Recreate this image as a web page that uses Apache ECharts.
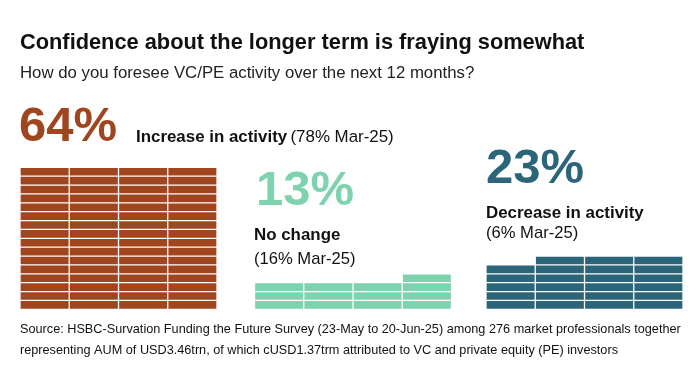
<!DOCTYPE html>
<html>
<head>
<meta charset="utf-8">
<script src="https://cdn.jsdelivr.net/npm/echarts@6/dist/echarts.min.js"></script>
<style>
html,body{margin:0;padding:0;background:#fff;}
#chart{width:696px;height:390px;}
</style>
</head>
<body>
<div id="chart"></div>
<script>
// ---- data ----
const titleText = 'Confidence about the longer term is fraying somewhat';
const subtitleText = 'How do you foresee VC/PE activity over the next 12 months?';
const categories = ['Increase in activity', 'No change', 'Decrease in activity'];
const values = [64, 13, 23];
const previousValues = [78, 16, 6];
const previousLabel = 'Mar-25';
const colors = ['#A0461F', '#7DD3AE', '#2B6579'];
const sourceLines = [
  'Source: HSBC-Survation Funding the Future Survey (23-May to 20-Jun-25) among 276 market professionals together',
  'representing AUM of USD3.46trn, of which cUSD1.37trm attributed to VC and private equity (PE) investors'
];
const columnsPerGroup = 4;
const maxRows = 16;

// ---- build cells ----
function buildCells(v) {
  const cells = [];
  const full = Math.floor(v / columnsPerGroup);
  const rem = v % columnsPerGroup;
  for (let r = 0; r < full; r++)
    for (let c = 0; c < columnsPerGroup; c++) cells.push([c, r]);
  for (let k = 0; k < rem; k++) cells.push([columnsPerGroup - rem + k, full]);
  return cells;
}

const FONT = '"Liberation Sans", Arial, sans-serif';
const gridLefts = [20, 254.5, 486];
const grids = [], xAxes = [], yAxes = [], series = [];
values.forEach((v, i) => {
  grids.push({ left: gridLefts[i], width: 197, top: 167.3, height: 142 });
  xAxes.push({ gridIndex: i, type: 'value', min: 0, max: columnsPerGroup, show: false });
  yAxes.push({ gridIndex: i, type: 'value', min: 0, max: maxRows, show: false });
  series.push({
    type: 'custom',
    xAxisIndex: i, yAxisIndex: i,
    data: buildCells(v),
    itemStyle: { color: colors[i] },
    renderItem: function (params, api) {
      const c = api.value(0), r = api.value(1);
      const p0 = api.coord([c, r + 1]);
      const p1 = api.coord([c + 1, r]);
      const g = 0.65;
      return {
        type: 'rect',
        shape: { x: p0[0] + g, y: p0[1] + g, width: p1[0] - p0[0] - 2 * g, height: p1[1] - p0[1] - 2 * g },
        style: { fill: colors[i] }
      };
    }
  });
});

const graphics = [
  { type: 'text', left: 20, top: 32, style: { text: titleText, font: 'bold 21.8px ' + FONT, fill: '#111' } },
  { type: 'text', left: 20, top: 64.5, style: { text: subtitleText, font: '16.8px ' + FONT, fill: '#222' } },
  // group 1
  { type: 'text', left: 19, top: 102.5, style: { text: values[0] + '%', font: 'bold 49px ' + FONT, fill: colors[0] } },
  { type: 'text', left: 136, top: 129, style: {
      text: '{b|' + categories[0] + '} {r|(' + previousValues[0] + '% ' + previousLabel + ')}',
      rich: { b: { font: 'bold 16.9px ' + FONT, fill: '#111' }, r: { font: '16.9px ' + FONT, fill: '#111' } } } },
  // group 2
  { type: 'text', left: 256, top: 166.5, style: { text: values[1] + '%', font: 'bold 49px ' + FONT, fill: colors[1] } },
  { type: 'text', left: 254, top: 226.7, style: { text: categories[1], font: 'bold 16.9px ' + FONT, fill: '#111' } },
  { type: 'text', left: 254, top: 251, style: { text: '(' + previousValues[1] + '% ' + previousLabel + ')', font: '16.6px ' + FONT, fill: '#111' } },
  // group 3
  { type: 'text', left: 486, top: 144.5, style: { text: values[2] + '%', font: 'bold 49px ' + FONT, fill: colors[2] } },
  { type: 'text', left: 486, top: 204.4, style: { text: categories[2], font: 'bold 16.9px ' + FONT, fill: '#111' } },
  { type: 'text', left: 486, top: 225, style: { text: '(' + previousValues[2] + '% ' + previousLabel + ')', font: '16.6px ' + FONT, fill: '#111' } },
  // source
  { type: 'text', left: 20, top: 322.5, style: { text: sourceLines[0], font: '12.7px ' + FONT, fill: '#111' } },
  { type: 'text', left: 20, top: 344, style: { text: sourceLines[1], font: '12.7px ' + FONT, fill: '#111' } }
];

const chart = echarts.init(document.getElementById('chart'), null, { renderer: 'canvas' });
chart.setOption({
  animation: false,
  backgroundColor: '#fff',
  grid: grids,
  xAxis: xAxes,
  yAxis: yAxes,
  series: series,
  graphic: graphics
});
</script>
</body>
</html>
